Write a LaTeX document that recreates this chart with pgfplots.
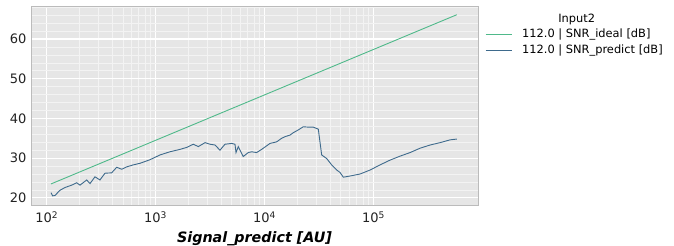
\documentclass[border=0pt]{standalone}
\usepackage{fontspec}
\setmainfont{DejaVu Sans}
\usepackage{pgfplots}
\pgfplotsset{compat=1.18}
\definecolor{bgc}{HTML}{E6E6E6}
\definecolor{idealc}{HTML}{4FB98A}
\definecolor{predc}{HTML}{3E6A8C}
\definecolor{framec}{HTML}{BBBBBB}
\definecolor{tickc}{HTML}{222222}
\definecolor{minorc}{HTML}{F3F3F3}
\begin{document}
\begin{tikzpicture}
\begin{axis}[
  scale only axis,
  width=447pt, height=199pt,
  xmode=log,
  xmin=71.8, xmax=912000,
  ymin=18.2, ymax=68.3,
  axis background/.style={fill=bgc},
  axis line style={framec, line width=0.6pt},
  grid=both,
  major grid style={white, line width=1.2pt},
  minor grid style={minorc, line width=0.5pt},
  ytick={20,30,40,50,60},
  minor ytick={22,24,26,28,32,34,36,38,42,44,46,48,52,54,56,58,62,64,66,68},
  xtick={100,1000,10000,100000},
  xticklabels={10\textsuperscript{2},10\textsuperscript{3},10\textsuperscript{4},10\textsuperscript{5}},
  tick style={draw=none},
  /pgf/number format/assume math mode=true,
  ticklabel style={font=\fontsize{13}{15}\selectfont, text=tickc},
  xticklabel style={yshift=-3pt},
  yticklabel style={xshift=-1pt},
  xlabel={\fontsize{14.3}{16}\selectfont\bfseries\itshape Signal\_predict [AU]},
  xlabel style={yshift=-2pt},
  legend style={at={(1,1)}, anchor=north west, xshift=4pt, yshift=-19pt,
    draw=none, fill=none, font=\fontsize{11.4}{13}\selectfont,
    row sep=1.5pt},
  legend cell align=left,
  /tikz/every odd column/.append style={column sep=8pt},
  legend image code/.code={\draw[#1, line width=1pt] (0pt,0pt) -- (26pt,0pt);},
]
\coordinate (ll) at (rel axis cs:0,0);
\addplot[idealc, line width=0.9pt] coordinates {(109.5,23.5) (582000,66.1)};
\addlegendentry{112.0 | SNR\_ideal [dB]}
\addplot[predc, line width=0.9pt] coordinates {
(109.5,21.3) (113.5,20.5) (119.2,20.6) (132.4,21.9) (147.2,22.6) (169.7,23.2)
(188.5,23.8) (202.2,23.2) (233,24.5) (250,23.6) (277.6,25.3) (308.5,24.5)
(342.8,26.2) (395,26.3) (439.5,27.7) (488.6,27.2) (543,27.8) (624,28.3)
(719,28.7) (828,29.3) (888,29.6) (1097,30.8) (1355,31.6) (1674,32.2)
(1930,32.7) (2220,33.5) (2466,32.9) (2843,33.9) (3160,33.5) (3511,33.3)
(3901,32.0) (4335,33.5) (4997,33.7) (5358,33.5) (5473,31.4) (5743,32.9)
(6381,30.4) (7091,31.4) (7621,31.6) (8468,31.4) (9408,32.2) (11220,33.7)
(12930,34.1) (14370,35.0) (15410,35.4) (17130,35.8) (18370,36.4) (20420,37.1)
(22690,37.9) (25220,37.8) (28050,37.8) (31170,37.3) (33480,30.8) (37200,29.9)
(41350,28.3) (46000,27.0) (49330,26.4) (52920,25.2) (60960,25.5) (75330,26.0)
(93080,27.0) (115000,28.3) (142100,29.5) (175500,30.5) (216900,31.4) (268000,32.5)
(331100,33.3) (409100,33.9) (505300,34.6) (582000,34.8)
};
\addlegendentry{112.0 | SNR\_predict [dB]}
\end{axis}
\node[font=\fontsize{11.4}{13}\selectfont, anchor=center] at ([xshift=545.7pt, yshift=186pt]ll) {Input2};
\pgfresetboundingbox
\useasboundingbox (ll) ++(-31pt,-41pt) rectangle ++(674pt,246pt);
\end{tikzpicture}
\end{document}
